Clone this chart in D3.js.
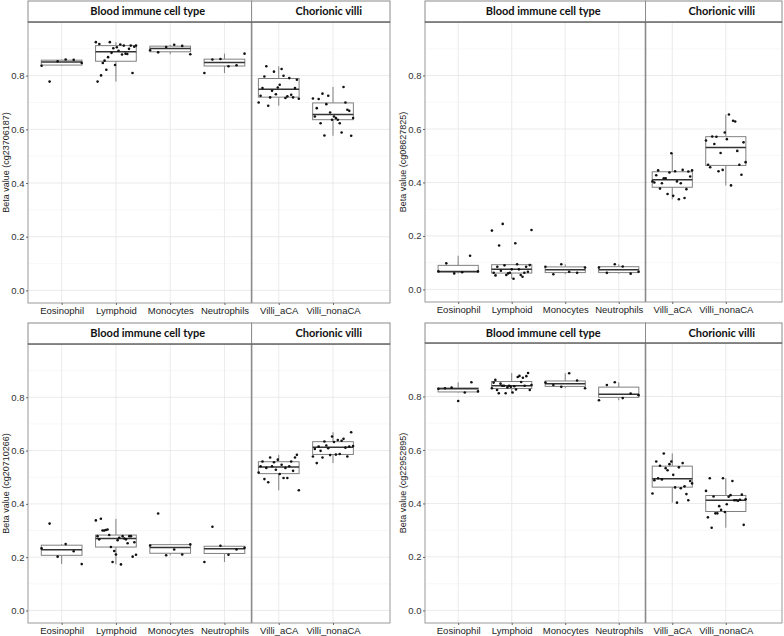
<!DOCTYPE html>
<html>
<head>
<meta charset="utf-8">
<script src="https://cdn.jsdelivr.net/npm/d3@7"></script>
<style>
  body { margin: 0; background: #fff; }
  svg { display: block; }
</style>
</head>
<body>
<div id="chart"></div>
<script>
// categories and facets
var categories = ["Eosinophil", "Lymphoid", "Monocytes", "Neutrophils", "Villi_aCA", "Villi_nonaCA"];
var facetNames = ["Blood immune cell type", "Chorionic villi"];
var facetSplit = 4; // first 4 categories are blood cells
var yTicks = [0, 0.2, 0.4, 0.6, 0.8];
var yMinor = [0.1, 0.3, 0.5, 0.7, 0.9];
var probes = ["cg23706187", "cg08627825", "cg20710266", "cg22952895"];

// beta values per category (left to right inside each group)
var cg23706187 = [
  [0.837, 0.778, 0.854, 0.860, 0.859, 0.847],
  [0.925, 0.778, 0.918, 0.801, 0.847, 0.856, 0.822, 0.869, 0.925, 0.885, 0.902, 0.840,
   0.906, 0.893, 0.916, 0.879, 0.912, 0.882, 0.881, 0.900, 0.912, 0.810, 0.908, 0.912],
  [0.895, 0.887, 0.907, 0.915, 0.911, 0.880],
  [0.810, 0.860, 0.862, 0.835, 0.839, 0.882],
  [0.700, 0.725, 0.754, 0.797, 0.835, 0.688, 0.719, 0.744, 0.815, 0.731, 0.756, 0.766,
   0.825, 0.800, 0.717, 0.723, 0.791, 0.729, 0.719, 0.754, 0.785, 0.714],
  [0.715, 0.648, 0.679, 0.713, 0.623, 0.733, 0.577, 0.694, 0.725, 0.663, 0.636, 0.648,
   0.642, 0.636, 0.623, 0.588, 0.758, 0.700, 0.673, 0.669, 0.576, 0.642]
];
var cg08627825 = [
  [0.0675, 0.0975, 0.060, 0.064, 0.126, 0.0675],
  [0.220, 0.0625, 0.0525, 0.085, 0.164, 0.070, 0.245, 0.090, 0.054, 0.060, 0.0625, 0.075,
   0.040, 0.1725, 0.094, 0.075, 0.054, 0.0475, 0.0625, 0.085, 0.066, 0.091, 0.2225],
  [0.085, 0.057, 0.094, 0.066, 0.062, 0.082],
  [0.082, 0.062, 0.094, 0.086, 0.059, 0.066],
  [0.404, 0.400, 0.427, 0.445, 0.377, 0.397, 0.416, 0.416, 0.357, 0.437, 0.509, 0.350,
   0.442, 0.404, 0.337, 0.397, 0.447, 0.342, 0.375, 0.441, 0.422, 0.445],
  [0.557, 0.466, 0.457, 0.572, 0.544, 0.571, 0.442, 0.510, 0.447, 0.587, 0.562, 0.654,
   0.389, 0.631, 0.628, 0.518, 0.466, 0.429, 0.550, 0.476]
];
var cg20710266 = [
  [0.233, 0.326, 0.202, 0.249, 0.222, 0.174],
  [0.338, 0.279, 0.267, 0.344, 0.300, 0.300, 0.302, 0.304, 0.283, 0.238, 0.182, 0.223,
   0.210, 0.264, 0.273, 0.173, 0.279, 0.270, 0.267, 0.252, 0.279, 0.279, 0.202, 0.256, 0.209],
  [0.244, 0.364, 0.207, 0.229, 0.210, 0.248],
  [0.182, 0.314, 0.243, 0.209, 0.229, 0.235],
  [0.518, 0.541, 0.559, 0.493, 0.535, 0.481, 0.574, 0.541, 0.556, 0.528, 0.566, 0.512,
   0.547, 0.497, 0.535, 0.497, 0.541, 0.559, 0.524, 0.574, 0.584, 0.451],
  [0.578, 0.606, 0.553, 0.615, 0.599, 0.574, 0.634, 0.619, 0.609, 0.583, 0.653, 0.632,
   0.585, 0.640, 0.587, 0.637, 0.644, 0.611, 0.578, 0.615, 0.669, 0.617]
];
var cg22952895 = [
  [0.829, 0.831, 0.833, 0.783, 0.815, 0.853, 0.819],
  [0.831, 0.852, 0.862, 0.824, 0.812, 0.848, 0.840, 0.840, 0.812, 0.834, 0.840, 0.836,
   0.815, 0.838, 0.826, 0.873, 0.877, 0.854, 0.870, 0.840, 0.876, 0.888, 0.824, 0.843],
  [0.852, 0.843, 0.836, 0.887, 0.860, 0.831],
  [0.786, 0.843, 0.853, 0.794, 0.811, 0.805],
  [0.437, 0.487, 0.557, 0.494, 0.541, 0.490, 0.587, 0.532, 0.524, 0.547, 0.557, 0.507,
   0.460, 0.403, 0.535, 0.457, 0.551, 0.464, 0.435, 0.412, 0.484, 0.475],
  [0.447, 0.348, 0.494, 0.309, 0.426, 0.363, 0.363, 0.390, 0.376, 0.494, 0.368, 0.397,
   0.425, 0.431, 0.484, 0.412, 0.412, 0.410, 0.414, 0.433, 0.320, 0.416]
];
var panelData = [cg23706187, cg08627825, cg20710266, cg22952895];

// layout of the 2x2 grid
var panels = [
  {left: 28,  right: 390, top: 1,   strip: 21, bottom: 303},
  {left: 425, right: 782, top: 1,   strip: 21, bottom: 302},
  {left: 28,  right: 390, top: 323, strip: 21, bottom: 623},
  {left: 425, right: 782, top: 323, strip: 20, bottom: 623}
];

var svg = d3.select("#chart").append("svg")
  .attr("width", 784)
  .attr("height", 636);

function boxStats(vals) {
  var s = vals.slice().sort(d3.ascending);
  var q1 = d3.quantile(s, 0.25), med = d3.quantile(s, 0.5), q3 = d3.quantile(s, 0.75);
  var iqr = q3 - q1;
  var lo = d3.min(s.filter(v => v >= q1 - 1.5 * iqr));
  var hi = d3.max(s.filter(v => v <= q3 + 1.5 * iqr));
  return {q1: q1, med: med, q3: q3, lo: lo, hi: hi};
}

function drawPanel(p, data, probe) {
  var g = svg.append("g");
  var plotTop = p.top + p.strip;

  var x = d3.scaleLinear().domain([-0.62, 6.05]).range([p.left, p.right]);
  var y = d3.scaleLinear().domain([-0.047, 1.0]).range([p.bottom, plotTop]);
  var unit = x(1) - x(0);

  // grid
  g.selectAll(".minor").data(yMinor).enter().append("line")
    .attr("x1", p.left).attr("x2", p.right)
    .attr("y1", d => y(d)).attr("y2", d => y(d))
    .attr("stroke", "#f3f3f3").attr("stroke-width", 0.6);
  g.selectAll(".major").data(yTicks).enter().append("line")
    .attr("x1", p.left).attr("x2", p.right)
    .attr("y1", d => y(d)).attr("y2", d => y(d))
    .attr("stroke", "#e6e6e6").attr("stroke-width", 0.8);
  g.selectAll(".vgrid").data(categories).enter().append("line")
    .attr("x1", (d, i) => x(i)).attr("x2", (d, i) => x(i))
    .attr("y1", plotTop).attr("y2", p.bottom)
    .attr("stroke", "#e6e6e6").attr("stroke-width", 0.8);

  // boxes
  var bw = 0.75 * unit;
  data.forEach(function(vals, i) {
    var st = boxStats(vals);
    var cx = x(i);
    g.append("line").attr("x1", cx).attr("x2", cx)
      .attr("y1", y(st.hi)).attr("y2", y(st.q3))
      .attr("stroke", "#808080").attr("stroke-width", 1);
    g.append("line").attr("x1", cx).attr("x2", cx)
      .attr("y1", y(st.q1)).attr("y2", y(st.lo))
      .attr("stroke", "#808080").attr("stroke-width", 1);
    g.append("rect")
      .attr("x", cx - bw / 2).attr("width", bw)
      .attr("y", y(st.q3)).attr("height", Math.max(0.5, y(st.q1) - y(st.q3)))
      .attr("fill", "#fff").attr("stroke", "#808080").attr("stroke-width", 1);
    g.append("line").attr("x1", cx - bw / 2).attr("x2", cx + bw / 2)
      .attr("y1", y(st.med)).attr("y2", y(st.med))
      .attr("stroke", "#333").attr("stroke-width", 1.5);

    // jittered points, spread across the group in reading order
    var n = vals.length;
    g.selectAll(null).data(vals).enter().append("circle")
      .attr("cx", (d, k) => cx + unit * (-0.37 + 0.74 * (n > 1 ? k / (n - 1) : 0.5)))
      .attr("cy", d => y(d))
      .attr("r", 1.3)
      .attr("fill", "#111");
  });

  // panel border and facet divider
  var xDiv = x(facetSplit - 0.5);
  g.append("rect")
    .attr("x", p.left).attr("y", plotTop)
    .attr("width", p.right - p.left).attr("height", p.bottom - plotTop)
    .attr("fill", "none").attr("stroke", "#9a9a9a").attr("stroke-width", 1);
  g.append("line").attr("x1", xDiv).attr("x2", xDiv)
    .attr("y1", p.top).attr("y2", p.bottom)
    .attr("stroke", "#8a8a8a").attr("stroke-width", 1.6);

  // strips
  var sections = [[p.left, xDiv], [xDiv, p.right]];
  sections.forEach(function(s, k) {
    g.append("rect")
      .attr("x", s[0]).attr("y", p.top)
      .attr("width", s[1] - s[0]).attr("height", p.strip)
      .attr("fill", "#fff").attr("stroke", "#8a8a8a").attr("stroke-width", 1);
    g.append("text")
      .attr("x", (s[0] + s[1]) / 2 + 8)
      .attr("y", p.top + p.strip / 2)
      .attr("dy", "0.36em")
      .attr("text-anchor", "middle")
      .attr("font-family", "Lato, 'Open Sans', sans-serif")
      .attr("font-weight", "bold")
      .attr("font-size", 11)
      .attr("fill", "#111")
      .text(facetNames[k]);
  });
  g.append("line").attr("x1", p.left).attr("x2", p.right)
    .attr("y1", plotTop).attr("y2", plotTop)
    .attr("stroke", "#555").attr("stroke-width", 1.2);

  // y axis
  var yAxis = d3.axisLeft(y).tickValues(yTicks).tickFormat(d3.format(".1f"))
    .tickSize(2).tickPadding(1.5);
  var ya = g.append("g").attr("transform", `translate(${p.left},0)`).call(yAxis);
  ya.select(".domain").remove();
  ya.selectAll(".tick line").attr("stroke", "#666");
  ya.selectAll("text").attr("font-family", "'Liberation Sans', Arial, sans-serif")
    .attr("font-size", 9.5).attr("fill", "#333");

  // x axis
  var xAxis = d3.axisBottom(x).tickValues(d3.range(categories.length))
    .tickFormat(i => categories[i]).tickSize(2).tickPadding(2);
  var xa = g.append("g").attr("transform", `translate(0,${p.bottom})`).call(xAxis);
  xa.select(".domain").remove();
  xa.selectAll(".tick line").attr("stroke", "#666");
  xa.selectAll("text").attr("font-family", "'Liberation Sans', Arial, sans-serif")
    .attr("font-size", 9.5).attr("fill", "#222");

  // y title
  g.append("text")
    .attr("transform", `translate(${p.left - 22.5},${(plotTop + p.bottom) / 2}) rotate(-90)`)
    .attr("dy", "0.35em")
    .attr("text-anchor", "middle")
    .attr("font-family", "'Liberation Sans', Arial, sans-serif")
    .attr("font-size", 9)
    .attr("fill", "#222")
    .text(`Beta value (${probe})`);
}

panels.forEach(function(p, i) {
  drawPanel(p, panelData[i], probes[i]);
});
</script>
</body>
</html>
